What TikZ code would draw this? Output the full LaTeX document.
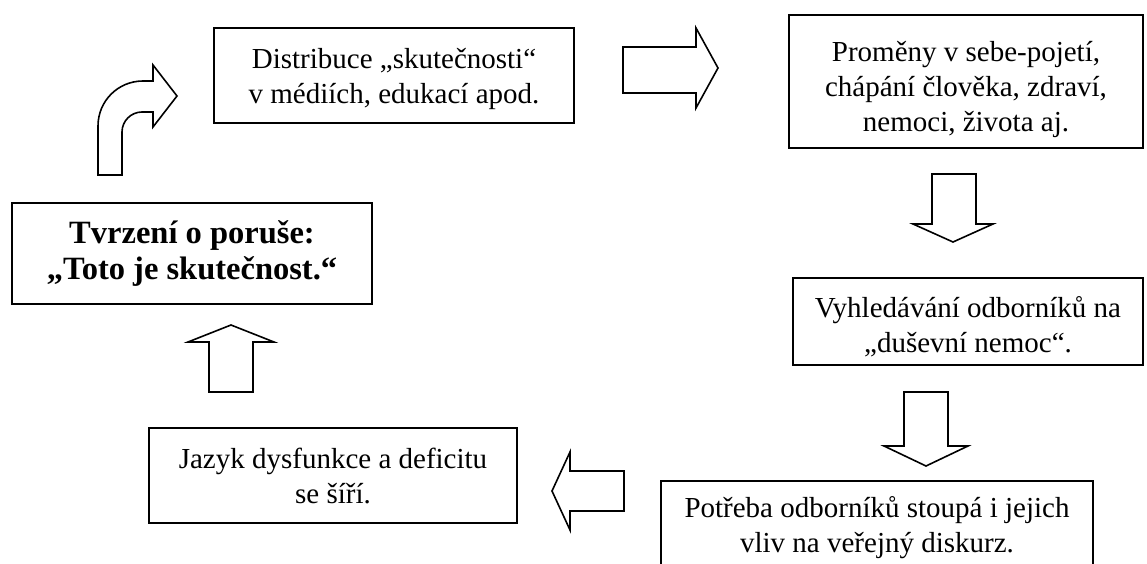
\documentclass[tikz,border=0pt]{standalone}
\usepackage{fontspec}
\setmainfont{Liberation Serif}
\begin{document}
\begin{tikzpicture}[x=1pt,y=-1pt,
  frame/.style={draw, line width=1.8pt, inner sep=0pt},
  txt/.style={align=center, inner sep=0pt, font=\fontsize{29}{35}\selectfont},
  boldtxt/.style={txt, font=\fontsize{32.5}{36}\selectfont\bfseries},
  blockarrow/.style={draw, line width=1.6pt, line join=miter, fill=white}]
\useasboundingbox (0,0) rectangle (1147,564);
\clip (0,0) rectangle (1147,564);
% frames
\node[frame, minimum width=360pt, minimum height=95pt] (dist) at (394,75.5) {};
\node[frame, minimum width=354pt, minimum height=133pt] (prom) at (966,81.5) {};
\node[frame, minimum width=360pt, minimum height=101pt] (tvrz) at (192,253.5) {};
\node[frame, minimum width=350pt, minimum height=87pt] (vyhl) at (968,321.5) {};
\node[frame, minimum width=368pt, minimum height=95pt] (jazyk) at (333,475.5) {};
\node[frame, minimum width=432pt, minimum height=93pt] (potr) at (877,527.5) {};
% texts
\node[txt] (distT) at ([yshift=-3pt]dist.center)
  {Distribuce „skutečnosti“\\v médiích, edukací apod.};
\node[txt] (promT) at ([yshift=-8pt]prom.center)
  {Proměny v sebe-pojetí,\\chápání člověka, zdraví,\\nemoci, života aj.};
\node[boldtxt] (tvrzT) at (tvrz.center)
  {Tvrzení o poruše:\\„Toto je skutečnost.“};
\node[txt] (vyhlT) at ([yshift=-5pt]vyhl.center)
  {Vyhledávání odborníků na\\„duševní nemoc“.};
\node[txt] (jazykT) at (jazyk.center)
  {Jazyk dysfunkce a deficitu\\se šíří.};
\node[txt] (potrT) at (potr.center)
  {Potřeba odborníků stoupá i jejich\\vliv na veřejný diskurz.};
% curved arrow (Tvrzeni -> Distribuce)
\draw[blockarrow] (98,175) -- (98,126) .. controls (98,101) and (118,81) .. (143,81)
  -- (153,81) -- (153,65) -- (177,96) -- (153,127) -- (153,112) -- (142,112)
  .. controls (131,112) and (122,121) .. (122,132) -- (122,175) -- cycle;
% right arrow (Distribuce -> Promeny)
\draw[blockarrow] (623,47) -- (696,47) -- (696,28) -- (718,68) -- (696,108)
  -- (696,93) -- (623,93) -- cycle;
% down arrow (Promeny -> Vyhledavani)
\draw[blockarrow] (932,174) -- (976,174) -- (976,224) -- (993,224) -- (953,242)
  -- (913,224) -- (932,224) -- cycle;
% down arrow (Vyhledavani -> Potreba)
\draw[blockarrow] (904,392) -- (948,392) -- (948,446) -- (968,446) -- (926,466)
  -- (884,446) -- (904,446) -- cycle;
% left arrow (Potreba -> Jazyk)
\draw[blockarrow] (624,471) -- (570,471) -- (570,452) -- (552,491) -- (570,530)
  -- (570,511) -- (624,511) -- cycle;
% up arrow (Jazyk -> Tvrzeni)
\draw[blockarrow] (209,392) -- (209,342) -- (188,342) -- (231,325) -- (274,342)
  -- (253,342) -- (253,392) -- cycle;
\end{tikzpicture}
\end{document}
